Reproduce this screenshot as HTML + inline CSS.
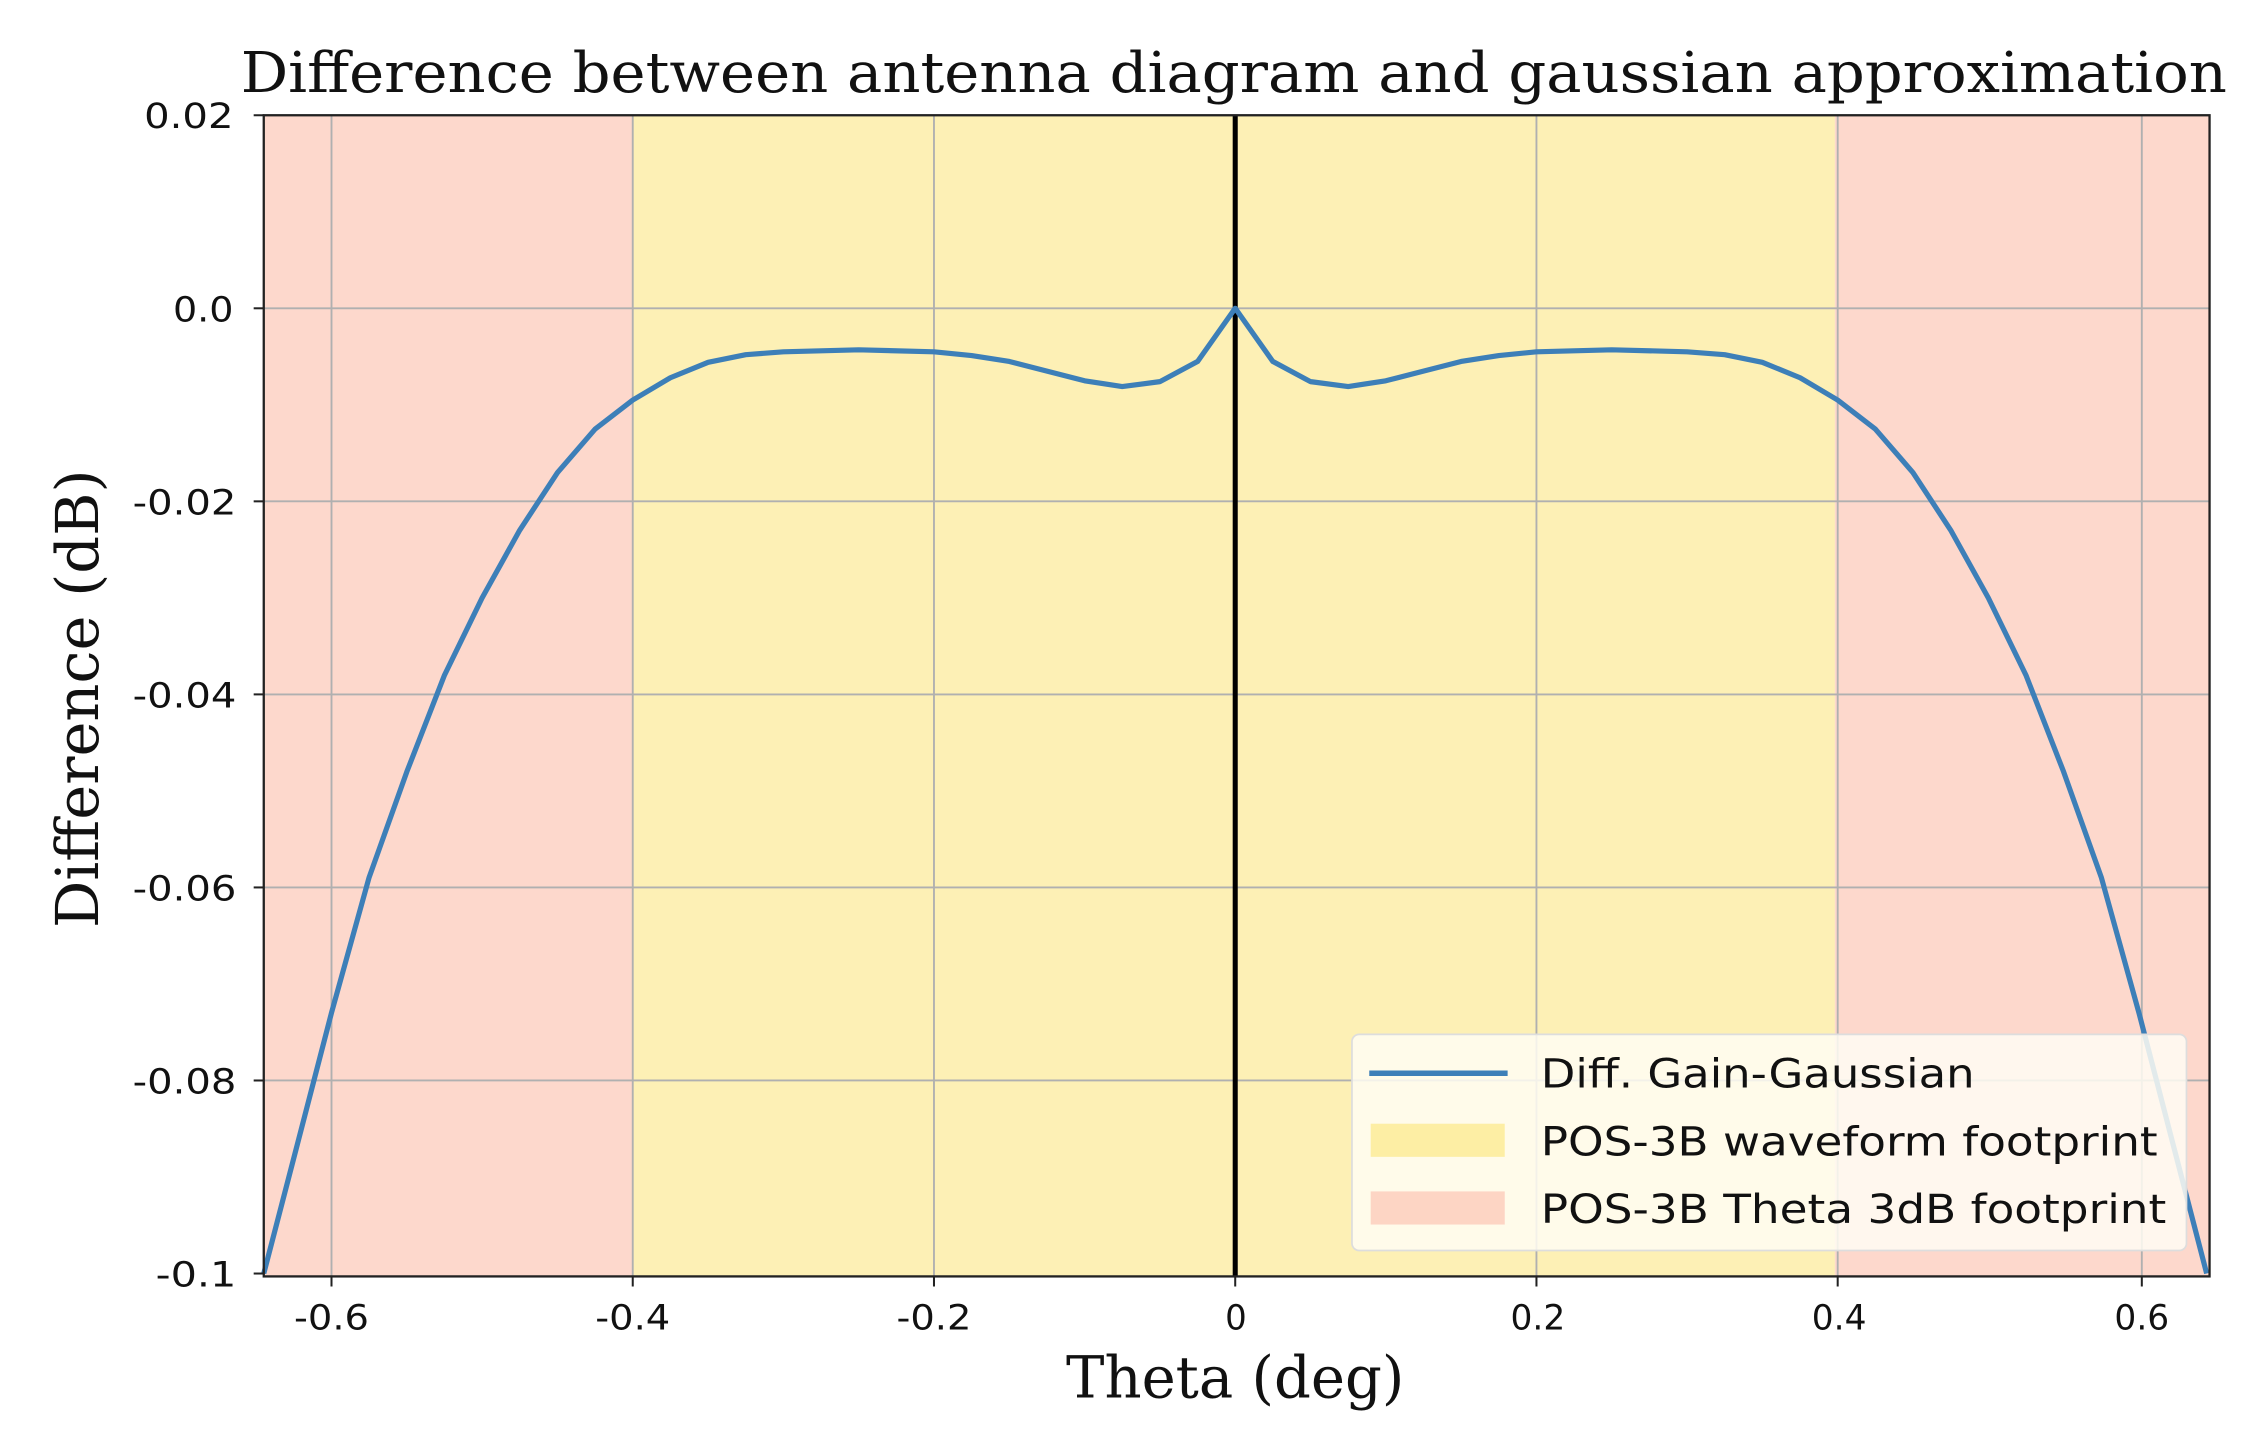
<!DOCTYPE html>
<html><head><meta charset="utf-8"><style>html,body{margin:0;padding:0;background:#fff}svg{display:block}</style></head>
<body>
<svg width="2260" height="1432" viewBox="0 0 1568 994" preserveAspectRatio="none" xmlns="http://www.w3.org/2000/svg">
<rect x="0" y="0" width="1568" height="994" fill="#fff"/>
<rect x="183" y="80" width="1350" height="806" fill="#fdd8cc"/>
<rect x="439" y="80" width="834" height="806" fill="#fdf0b5"/>
<g stroke="#b0b0b0" stroke-width="1.3">
<line x1="230" y1="80" x2="230" y2="886"/><line x1="439" y1="80" x2="439" y2="886"/><line x1="648" y1="80" x2="648" y2="886"/><line x1="857" y1="80" x2="857" y2="886"/><line x1="1066" y1="80" x2="1066" y2="886"/><line x1="1275" y1="80" x2="1275" y2="886"/><line x1="1486" y1="80" x2="1486" y2="886"/>
<line x1="183" y1="214" x2="1533" y2="214"/><line x1="183" y1="348" x2="1533" y2="348"/><line x1="183" y1="482" x2="1533" y2="482"/><line x1="183" y1="616" x2="1533" y2="616"/><line x1="183" y1="750" x2="1533" y2="750"/>
</g>
<line x1="857" y1="80" x2="857" y2="886" stroke="#000" stroke-width="3.5"/>
<polyline fill="none" stroke="#3d7fb8" stroke-width="3.6" stroke-linejoin="round" points="183,884 203.9,803.6 230,703 256.1,609 282.3,535.6 308.4,468.6 334.5,415 360.6,368 386.8,328 412.9,297.8 439,277.7 465.1,262.2 491.3,251.5 517.4,246.2 543.5,244.2 595.8,242.8 648,244.2 674.1,246.8 700.3,250.9 726.4,257.6 752.5,264.3 778.6,268.3 804.8,264.9 830.9,250.9 857,214 883.1,250.9 909.2,264.9 935.4,268.3 961.5,264.3 987.6,257.6 1013.7,250.9 1039.9,246.8 1066,244.2 1118.2,242.8 1170.5,244.2 1196.6,246.2 1222.7,251.5 1248.9,262.2 1275,277.7 1301.1,297.8 1327.2,328 1353.4,368 1379.5,415 1405.6,468.6 1431.7,535.6 1457.9,609 1484,703 1510.1,803.6 1531,884"/>
<rect x="183" y="80" width="1350" height="806" fill="none" stroke="#222" stroke-width="1.6"/>
<g stroke="#222" stroke-width="1.4">
<line x1="230" y1="886" x2="230" y2="893"/><line x1="439" y1="886" x2="439" y2="893"/><line x1="648" y1="886" x2="648" y2="893"/><line x1="857" y1="886" x2="857" y2="893"/><line x1="1066" y1="886" x2="1066" y2="893"/><line x1="1275" y1="886" x2="1275" y2="893"/><line x1="1486" y1="886" x2="1486" y2="893"/>
<line x1="176" y1="80" x2="183" y2="80"/><line x1="176" y1="214" x2="183" y2="214"/><line x1="176" y1="348" x2="183" y2="348"/><line x1="176" y1="482" x2="183" y2="482"/><line x1="176" y1="616" x2="183" y2="616"/><line x1="176" y1="750" x2="183" y2="750"/><line x1="176" y1="884" x2="183" y2="884"/>
</g>
<g font-family="DejaVu Sans, Liberation Sans, sans-serif" font-size="24" fill="#111" lengthAdjust="spacingAndGlyphs">
<text x="100" y="89" textLength="62" lengthAdjust="spacingAndGlyphs">0.02</text>
<text x="120" y="223" textLength="42" lengthAdjust="spacingAndGlyphs">0.0</text>
<text x="92" y="357" textLength="72" lengthAdjust="spacingAndGlyphs">-0.02</text>
<text x="92" y="491" textLength="72" lengthAdjust="spacingAndGlyphs">-0.04</text>
<text x="92" y="625" textLength="72" lengthAdjust="spacingAndGlyphs">-0.06</text>
<text x="92" y="759" textLength="72" lengthAdjust="spacingAndGlyphs">-0.08</text>
<text x="108" y="893" textLength="56" lengthAdjust="spacingAndGlyphs">-0.1</text>
<text x="204" y="923" textLength="52" lengthAdjust="spacingAndGlyphs">-0.6</text>
<text x="413" y="923" textLength="52" lengthAdjust="spacingAndGlyphs">-0.4</text>
<text x="622" y="923" textLength="52" lengthAdjust="spacingAndGlyphs">-0.2</text>
<text x="850" y="923" textLength="15" lengthAdjust="spacingAndGlyphs">0</text>
<text x="1048" y="923" textLength="38" lengthAdjust="spacingAndGlyphs">0.2</text>
<text x="1257" y="923" textLength="38" lengthAdjust="spacingAndGlyphs">0.4</text>
<text x="1467" y="923" textLength="38" lengthAdjust="spacingAndGlyphs">0.6</text>
</g>
<g font-family="DejaVu Serif, Liberation Serif, serif" fill="#111">
<text x="167" y="64" font-size="39" textLength="1378" lengthAdjust="spacingAndGlyphs">Difference between antenna diagram and gaussian approximation</text>
<text x="857" y="970" font-size="40" text-anchor="middle">Theta (deg)</text>
<text transform="translate(68,485) rotate(-90)" font-size="41" text-anchor="middle">Difference (dB)</text>
</g>
<rect x="938" y="718" width="579" height="150" rx="5" fill="#fffdf3" fill-opacity="0.85" stroke="#ddd" stroke-width="1.2"/>
<line x1="950" y1="745" x2="1046" y2="745" stroke="#3d7fb8" stroke-width="3.8"/>
<rect x="951" y="780" width="93" height="23" fill="#fdeea4"/>
<rect x="951" y="827" width="93" height="23" fill="#fdd5c4"/>
<g font-family="DejaVu Sans, Liberation Sans, sans-serif" font-size="28" fill="#111">
<text x="1069" y="755" textLength="301" lengthAdjust="spacingAndGlyphs">Diff. Gain-Gaussian</text>
<text x="1069" y="802" textLength="428" lengthAdjust="spacingAndGlyphs">POS-3B waveform footprint</text>
<text x="1069" y="849" textLength="434" lengthAdjust="spacingAndGlyphs">POS-3B Theta 3dB footprint</text>
</g>
</svg>
</body></html>
